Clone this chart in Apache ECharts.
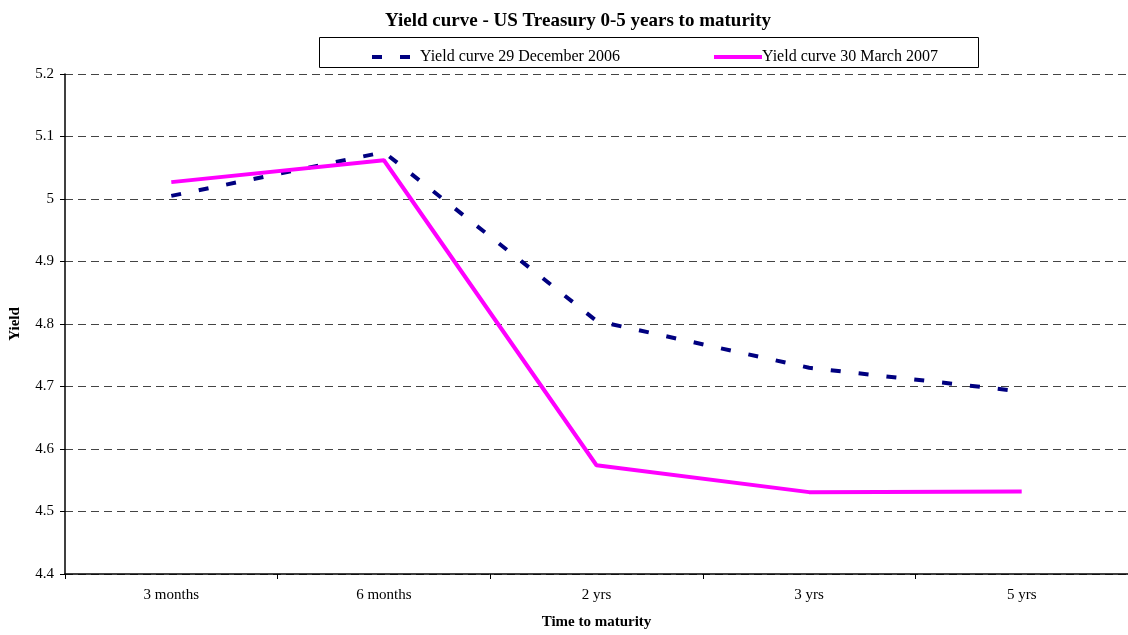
<!DOCTYPE html>
<html>
<head>
<meta charset="utf-8">
<script src="https://cdn.jsdelivr.net/npm/echarts@6/dist/echarts.min.js"></script>
<style>html,body{margin:0;padding:0;background:#fff}#c{width:1128px;height:635px}</style>
</head>
<body>
<div id="c"></div>
<script>
const categories = ['3 months', '6 months', '2 yrs', '3 yrs', '5 yrs'];
const dec2006 = [5.005, 5.075, 4.805, 4.730, 4.692];
const mar2007 = [5.027, 5.062, 4.574, 4.531, 4.532];
const seriesNames = ['Yield curve 29 December 2006', 'Yield curve 30 March 2007'];
const yTicks = { min: 4.4, max: 5.2, interval: 0.1 };

const font = 'Liberation Serif, Times New Roman, serif';
const chart = echarts.init(document.getElementById('c'));
chart.setOption({
  backgroundColor: '#fff',
  animation: false,
  textStyle: { fontFamily: font },
  title: {
    text: 'Yield curve - US Treasury 0-5 years to maturity',
    left: 573, top: 7, textAlign: 'center',
    textStyle: { fontFamily: font, fontSize: 19, fontWeight: 'bold', color: '#000' }
  },
  graphic: [{
    type: 'rect', left: 319, top: 37,
    shape: { width: 659, height: 30 },
    style: { fill: '#fff', stroke: '#000', lineWidth: 1 },
    z: 0
  }],
  legend: [
    { data: [seriesNames[0]], left: 365, top: 44, itemWidth: 38, itemHeight: 14, itemGap: 4,
      itemStyle: { opacity: 0 }, lineStyle: { width: 4 },
      textStyle: { fontFamily: font, fontSize: 16, color: '#000', padding: [0, 0, 0, 5] }, z: 10 },
    { data: [seriesNames[1]], left: 707, top: 44, itemWidth: 48, itemHeight: 14, itemGap: 0,
      itemStyle: { opacity: 0 }, lineStyle: { width: 4 },
      textStyle: { fontFamily: font, fontSize: 16, color: '#000', padding: [0, 0, 0, -5] }, z: 10 }
  ],
  grid: { left: 64, right: 0, top: 74, bottom: 57, containLabel: false },
  xAxis: {
    type: 'category', data: categories, boundaryGap: true,
    name: 'Time to maturity', nameLocation: 'middle', nameGap: 41,
    nameTextStyle: { fontFamily: font, fontSize: 15, fontWeight: 'bold', color: '#000' },
    axisLine: { lineStyle: { color: '#000', width: 1.5 } },
    axisTick: { show: true, length: 5, lineStyle: { color: '#000' } },
    axisLabel: { fontFamily: font, fontSize: 15, color: '#000', margin: 14 }
  },
  yAxis: {
    type: 'value', min: yTicks.min, max: yTicks.max, interval: yTicks.interval,
    name: 'Yield', nameLocation: 'middle', nameGap: 42, nameRotate: 90,
    nameTextStyle: { fontFamily: font, fontSize: 15, fontWeight: 'bold', color: '#000' },
    axisLine: { show: true, lineStyle: { color: '#000', width: 1.5 } },
    axisTick: { show: true, length: 5, lineStyle: { color: '#000' } },
    axisLabel: { fontFamily: font, fontSize: 15, color: '#000', margin: 11,
      formatter: v => String(Math.round(v * 10) / 10) },
    splitLine: { show: true, lineStyle: { color: '#444', width: 1, type: [8, 5] } }
  },
  series: [
    { name: seriesNames[0], type: 'line', data: dec2006, symbol: 'none',
      lineStyle: { color: '#000080', width: 4, type: [10, 18] }, itemStyle: { color: '#000080' }, z: 3 },
    { name: seriesNames[1], type: 'line', data: mar2007, symbol: 'none',
      lineStyle: { color: '#FF00FF', width: 4 }, itemStyle: { color: '#FF00FF' }, z: 4 }
  ]
});
</script>
</body>
</html>
